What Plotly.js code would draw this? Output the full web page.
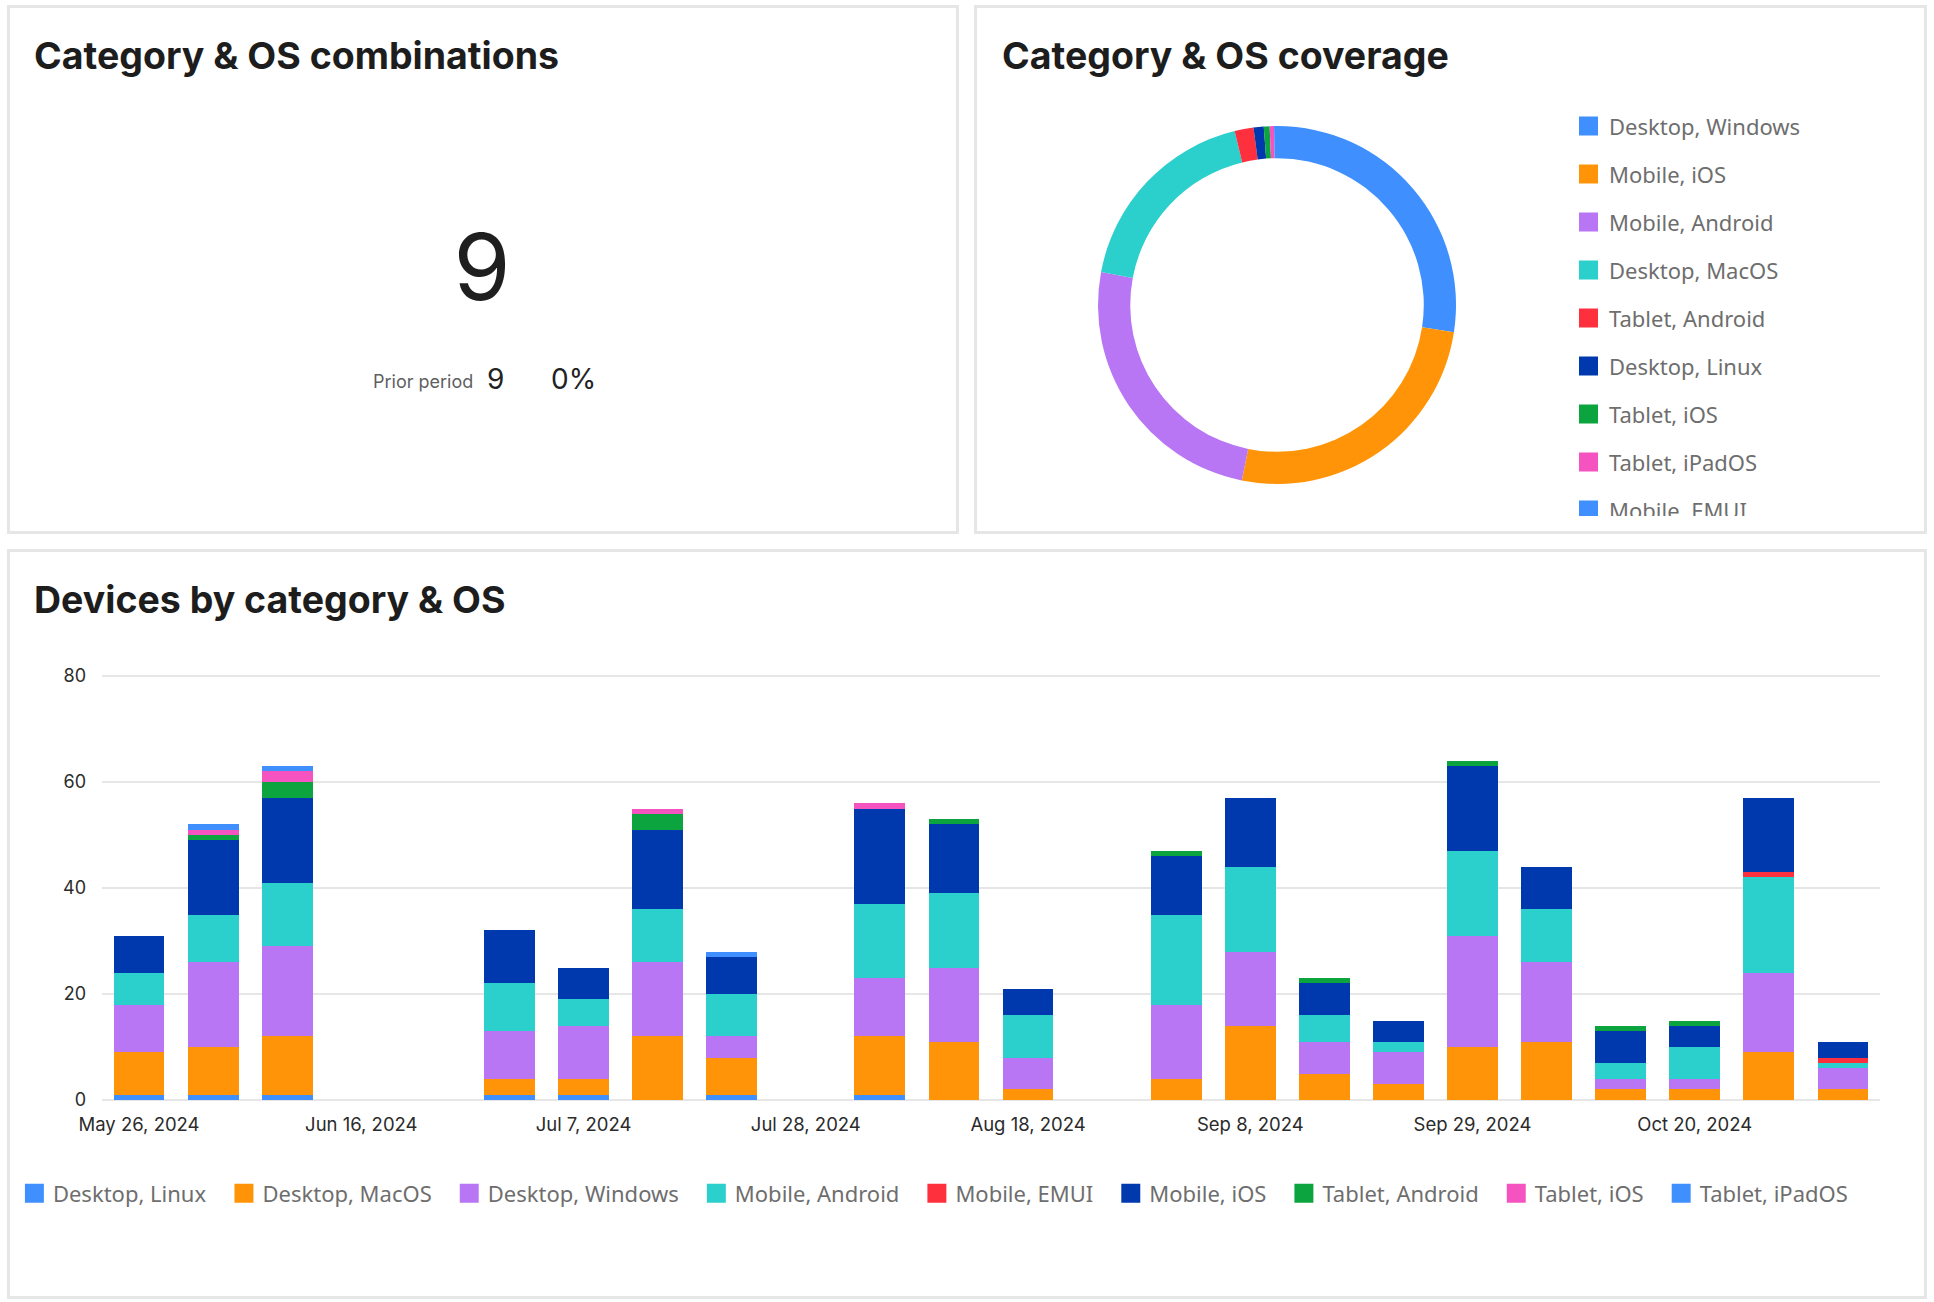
<!DOCTYPE html>
<html><head><meta charset="utf-8">
<script src="https://cdn.plot.ly/plotly-3.0.1.min.js"></script>
<style>
html,body{margin:0;padding:0;background:#fff;}
body{width:1934px;height:1302px;position:relative;overflow:hidden;font-family:Inter,sans-serif;}
.panel{position:absolute;box-sizing:border-box;border:3px solid #e6e6e6;background:#fff;}
.title{position:absolute;font-family:Inter,sans-serif;font-weight:700;font-size:37.5px;line-height:1;color:#1d1d1d;white-space:nowrap;}
.abs{position:absolute;line-height:1;white-space:nowrap;font-family:Inter,sans-serif;}
#donut,#bars{position:absolute;}
</style></head><body>
<div class="panel" style="left:7px;top:5px;width:952px;height:529px"></div>
<div class="panel" style="left:974px;top:5px;width:953px;height:529px"></div>
<div class="panel" style="left:7px;top:549px;width:1920px;height:750px"></div>
<div class="title" style="left:34px;top:36.5px">Category &amp; OS combinations</div>
<div class="title" style="left:1002px;top:36.5px">Category &amp; OS coverage</div>
<div class="title" style="left:34px;top:580.5px">Devices by category &amp; OS</div>
<div class="abs" id="kpiMain" style="left:382px;width:200px;text-align:center;top:220.5px;font-size:92px;color:#1f1f1f"></div>
<div class="abs" id="kpiPriorLabel" style="left:373px;top:373px;font-size:18px;color:#5f5f5f"></div>
<div class="abs" id="kpiPrior" style="left:487px;top:365px;font-size:28px;color:#222"></div>
<div class="abs" id="kpiChange" style="left:551px;top:365px;font-size:28px;color:#222"></div>
<div id="donut" style="left:977px;top:8px;width:947px;height:508px"></div>
<div id="bars" style="left:0px;top:549px;width:1934px;height:747px"></div>
<script>
// ---------- KPI ----------
const kpiValue = 9;
const kpiPriorText = 'Prior period';
const kpiPriorValue = 9;
const kpiChangePct = 0;

// ---------- Donut: Category & OS coverage ----------
const coverageLabels = ['Desktop, Windows','Mobile, iOS','Mobile, Android','Desktop, MacOS','Tablet, Android','Desktop, Linux','Tablet, iOS','Tablet, iPadOS','Mobile, EMUI'];
const coverageValues = [209,196,189,139,13,7,4,3,2];

// ---------- Stacked bars: Devices by category & OS ----------
const weeks = ['2024-05-26','2024-06-02','2024-06-09','2024-06-30','2024-07-07','2024-07-14','2024-07-21','2024-08-04','2024-08-11','2024-08-18','2024-09-01','2024-09-08','2024-09-15','2024-09-22','2024-09-29','2024-10-06','2024-10-13','2024-10-20','2024-10-27','2024-11-03'];
const desktopLinux   = [1,1,1,1,1,0,1,1,0,0,0,0,0,0,0,0,0,0,0,0];
const desktopMacOS   = [8,9,11,3,3,12,7,11,11,2,4,14,5,3,10,11,2,2,9,2];
const desktopWindows = [9,16,17,9,10,14,4,11,14,6,14,14,6,6,21,15,2,2,15,4];
const mobileAndroid  = [6,9,12,9,5,10,8,14,14,8,17,16,5,2,16,10,3,6,18,1];
const mobileEMUI     = [0,0,0,0,0,0,0,0,0,0,0,0,0,0,0,0,0,0,1,1];
const mobileIOS      = [7,14,16,10,6,15,7,18,13,5,11,13,6,4,16,8,6,4,14,3];
const tabletAndroid  = [0,1,3,0,0,3,0,0,1,0,1,0,1,0,1,0,1,1,0,0];
const tabletIOS      = [0,1,2,0,0,1,0,1,0,0,0,0,0,0,0,0,0,0,0,0];
const tabletIPadOS   = [0,1,1,0,0,0,1,0,0,0,0,0,0,0,0,0,0,0,0,0];
const seriesNames = ['Desktop, Linux','Desktop, MacOS','Desktop, Windows','Mobile, Android','Mobile, EMUI','Mobile, iOS','Tablet, Android','Tablet, iOS','Tablet, iPadOS'];
const seriesValues = [desktopLinux,desktopMacOS,desktopWindows,mobileAndroid,mobileEMUI,mobileIOS,tabletAndroid,tabletIOS,tabletIPadOS];
const xTickDates = ['2024-05-26','2024-06-16','2024-07-07','2024-07-28','2024-08-18','2024-09-08','2024-09-29','2024-10-20'];
const yTicks = [0,20,40,60,80];

// ---------- styles ----------
const palette = ['#3f8fff','#ff9408','#b875f4','#2bcfcc','#fe303e','#0038ae','#0ba43e','#f553bf','#3f8fff'];

document.getElementById('kpiMain').textContent = String(kpiValue);
document.getElementById('kpiPriorLabel').textContent = kpiPriorText;
document.getElementById('kpiPrior').textContent = String(kpiPriorValue);
document.getElementById('kpiChange').textContent = kpiChangePct + '%';

// Donut
(function(){
  const W = 947, H = 508;
  const cx = 300, cy = 297, r = 179;
  const legendShapes = [], legendAnn = [];
  coverageLabels.forEach((lab, i) => {
    const yc = 118 + 48 * i;
    legendShapes.push({type:'rect', xref:'paper', yref:'paper', x0:602/W, x1:621/W, y0:1-(yc-9.5)/H, y1:1-(yc+9.5)/H, fillcolor:palette[i], line:{width:0}});
    legendAnn.push({xref:'paper', yref:'paper', x:630/W, y:1-yc/H, xanchor:'left', yanchor:'middle', showarrow:false, text:lab, font:{family:'Noto Sans', size:22, color:'#6e6e6e'}});
  });
  Plotly.newPlot('donut', [{
    type:'pie', labels:coverageLabels, values:coverageValues, hole:0.82, sort:false,
    direction:'clockwise', rotation:0, textinfo:'none', hoverinfo:'none',
    marker:{colors:palette, line:{width:0}},
    domain:{x:[(cx-r)/W,(cx+r)/W], y:[1-(cy+r)/H, 1-(cy-r)/H]}
  }], {
    width:W, height:H, margin:{l:0,r:0,t:0,b:0,autoexpand:false}, showlegend:false,
    paper_bgcolor:'rgba(0,0,0,0)', plot_bgcolor:'rgba(0,0,0,0)',
    shapes:legendShapes, annotations:legendAnn
  }, {staticPlot:true, displayModeBar:false});
})();

// Bars
(function(){
  const barWidthMs = 4.8 * 86400000;
  const traces = seriesNames.map((n, i) => ({
    type:'bar', name:n, x:weeks, y:seriesValues[i], width:barWidthMs,
    marker:{color:palette[i], line:{width:0}}, hoverinfo:'none'
  }));
  const layout = {
    width:1934, height:747,
    margin:{l:102, r:54, t:125, b:196, autoexpand:false},
    paper_bgcolor:'rgba(0,0,0,0)', plot_bgcolor:'rgba(0,0,0,0)',
    barmode:'stack',
    font:{family:'Inter', size:18, color:'#2b2b2b'},
    xaxis:{type:'date', range:['2024-05-22 12:00','2024-11-06 12:00'], tickvals:xTickDates, tickformat:'%b %-d, %Y',
           showgrid:false, showline:false, zeroline:false, ticks:'', tickfont:{family:'Inter', size:18.5, color:'#2b2b2b'}, ticklabelstandoff:11},
    yaxis:{range:[0,80.4], tickvals:yTicks, gridcolor:'#e6e6e6', gridwidth:2, zeroline:true, zerolinecolor:'#e6e6e6', zerolinewidth:2,
           showline:false, ticks:'', tickfont:{family:'Inter', size:18, color:'#2b2b2b'}, ticklabelstandoff:15},
    showlegend:true,
    legend:{orientation:'h', x:-0.0563, xanchor:'left', y:-0.2193, yanchor:'middle', traceorder:'normal',
            font:{family:'Noto Sans', size:22, color:'#6e6e6e'}, itemwidth:41, bgcolor:'rgba(0,0,0,0)', borderwidth:0}
  };
  Plotly.newPlot('bars', traces, layout, {staticPlot:true, displayModeBar:false}).then(gd => {
    gd.querySelectorAll('.legend .legendpoints path').forEach(p => {
      p.setAttribute('transform', 'translate(32.5,0) scale(1.58)');
    });
  });
})();
</script>
</body></html>
